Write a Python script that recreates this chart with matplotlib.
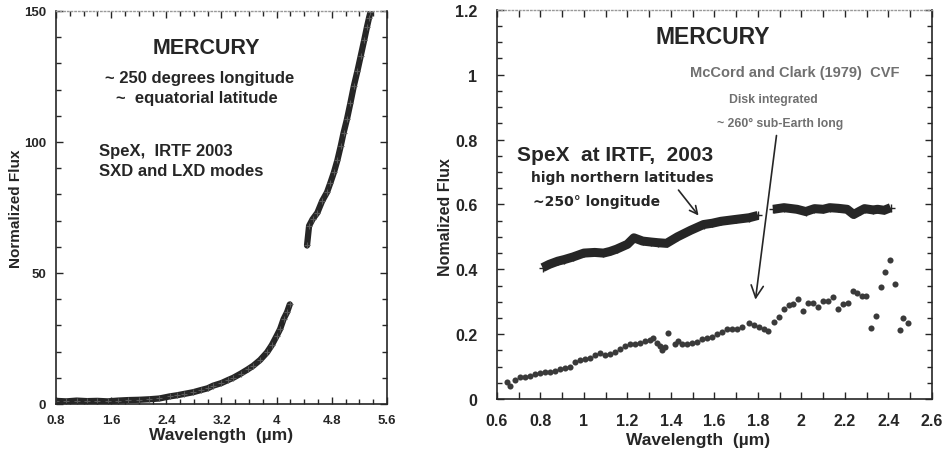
import numpy as np
import matplotlib.pyplot as plt
from matplotlib.ticker import MultipleLocator

plt.rcParams['font.family'] = ['Liberation Sans', 'DejaVu Sans']
plt.rcParams['font.weight'] = 'bold'
plt.rcParams['axes.labelweight'] = 'bold'

# ---- left panel: SpeX SXD + LXD (normalized flux, 0.8-5.6 um)
sxd_wl = [0.80, 0.95, 1.10, 1.25, 1.40, 1.55, 1.70, 1.85, 2.00, 2.15, 2.30, 2.45,
          2.55, 2.65, 2.79, 2.90, 3.00, 3.08, 3.20, 3.30, 3.37, 3.48, 3.58, 3.66,
          3.76, 3.86, 3.93, 4.00, 4.05, 4.10, 4.15, 4.19]
sxd_flux = [1.2, 1.0, 1.3, 1.1, 1.2, 1.0, 1.3, 1.5, 1.6, 1.8, 2.1, 2.9,
            3.3, 3.8, 4.5, 5.3, 6.0, 7.0, 8.0, 9.2, 10.0, 11.6, 13.2, 14.6,
            16.8, 19.7, 22.5, 26.0, 28.6, 32.4, 35.0, 38.0]

lxd_wl = [4.44, 4.47, 4.52, 4.59, 4.66, 4.73, 4.78, 4.83, 4.88, 4.93, 4.97, 5.02,
          5.07, 5.12, 5.17, 5.22, 5.27, 5.31, 5.34, 5.36]
lxd_flux = [60.5, 68.0, 70.5, 73.0, 77.5, 80.8, 84.5, 88.4, 93.0, 98.6, 103.5, 108.8,
            115.0, 121.5, 127.0, 133.0, 139.0, 144.0, 147.5, 149.5]

# ---- right panel: SpeX 2003 (upper) and McCord & Clark 1979 CVF (dots)
spex_wl1 = [0.81, 0.84, 0.88, 0.91, 0.95, 1.00, 1.05, 1.09, 1.12, 1.15, 1.20, 1.23,
            1.27, 1.31, 1.34, 1.38, 1.43, 1.49, 1.55, 1.59, 1.63, 1.70, 1.76, 1.80]
spex_fl1 = [0.405, 0.415, 0.425, 0.430, 0.438, 0.450, 0.452, 0.450, 0.455, 0.462, 0.477, 0.497,
            0.487, 0.484, 0.482, 0.480, 0.500, 0.520, 0.538, 0.542, 0.548, 0.554, 0.559, 0.566]
spex_wl2 = [1.87, 1.92, 1.98, 2.02, 2.06, 2.10, 2.13, 2.17, 2.21, 2.24, 2.27, 2.29,
            2.33, 2.35, 2.38, 2.41]
spex_fl2 = [0.585, 0.590, 0.585, 0.578, 0.587, 0.585, 0.590, 0.588, 0.585, 0.569, 0.580, 0.587,
            0.583, 0.585, 0.582, 0.590]

cvf_wl = [0.646, 0.661, 0.684, 0.707, 0.730, 0.753, 0.776, 0.799, 0.822, 0.845,
          0.868, 0.891, 0.914, 0.937, 0.960, 0.983, 1.006, 1.029, 1.052, 1.075,
          1.098, 1.121, 1.144, 1.167, 1.190, 1.213, 1.236, 1.259, 1.282, 1.305,
          1.320, 1.336, 1.351, 1.359, 1.374, 1.386, 1.420, 1.432, 1.451, 1.474,
          1.497, 1.520, 1.543, 1.566, 1.589, 1.612, 1.635, 1.658, 1.681, 1.704,
          1.727, 1.758, 1.781, 1.804, 1.827, 1.847, 1.873, 1.896, 1.919, 1.942,
          1.962, 1.985, 2.007, 2.030, 2.053, 2.076, 2.099, 2.122, 2.143, 2.166,
          2.189, 2.212, 2.235, 2.255, 2.278, 2.298, 2.319, 2.344, 2.366, 2.382,
          2.407, 2.431, 2.454, 2.469, 2.492]
cvf_fl = [0.051, 0.041, 0.059, 0.067, 0.069, 0.072, 0.076, 0.079, 0.082, 0.084,
          0.087, 0.094, 0.095, 0.100, 0.113, 0.121, 0.123, 0.128, 0.135, 0.141,
          0.135, 0.138, 0.146, 0.154, 0.162, 0.169, 0.171, 0.174, 0.179, 0.182,
          0.187, 0.174, 0.162, 0.151, 0.159, 0.203, 0.169, 0.179, 0.169, 0.169,
          0.174, 0.176, 0.185, 0.188, 0.190, 0.200, 0.207, 0.215, 0.215, 0.217,
          0.223, 0.234, 0.228, 0.223, 0.217, 0.210, 0.239, 0.254, 0.277, 0.289,
          0.292, 0.308, 0.272, 0.297, 0.297, 0.285, 0.303, 0.303, 0.315, 0.279,
          0.292, 0.297, 0.333, 0.328, 0.318, 0.318, 0.218, 0.256, 0.344, 0.393,
          0.428, 0.356, 0.213, 0.249, 0.233]

ink = '#262626'
narrow = ['Liberation Sans Narrow', 'Liberation Sans']

fig = plt.figure(figsize=(9.5, 4.52), dpi=100)
ax1 = fig.add_axes([0.0589, 0.104, 0.3485, 0.8695])
ax2 = fig.add_axes([0.523, 0.115, 0.458, 0.861])

# left panel
ax1.plot(sxd_wl, sxd_flux, '-', color=ink, lw=4.5, solid_capstyle='round')
ax1.plot(sxd_wl, sxd_flux, '+', color='0.35', ms=4, mew=0.8)
ax1.plot(lxd_wl, lxd_flux, '-', color=ink, lw=4.5, solid_capstyle='round')
ax1.plot(lxd_wl, lxd_flux, '+', color='0.35', ms=4, mew=0.8)
ax1.set_xlim(0.8, 5.6)
ax1.set_ylim(0, 150)
ax1.set_xticks([0.8, 1.6, 2.4, 3.2, 4.0, 4.8, 5.6])
ax1.set_xticklabels(['0.8', '1.6', '2.4', '3.2', '4', '4.8', '5.6'])
ax1.set_yticks([0, 50, 100, 150])
ax1.xaxis.set_minor_locator(MultipleLocator(0.2))
ax1.yaxis.set_minor_locator(MultipleLocator(10))
ax1.set_xlabel('Wavelength  (\u00b5m)', fontsize=12.5, color=ink, labelpad=1)
ax1.set_ylabel('Normalized Flux', fontsize=11, color=ink)
ax1.yaxis.set_label_coords(-0.10, 0.5)
ax1.text(2.98, 136, 'MERCURY', ha='center', va='center', fontsize=15.5, color=ink)
ax1.text(2.89, 124.6, '~ 250 degrees longitude', ha='center', va='center', fontsize=12, color=ink)
ax1.text(2.84, 117, '~  equatorial latitude', ha='center', va='center', fontsize=12, color=ink)
ax1.text(1.43, 96.7, 'SpeX,  IRTF 2003', ha='left', va='center', fontsize=12, color=ink)
ax1.text(1.43, 89, 'SXD and LXD modes', ha='left', va='center', fontsize=12, color=ink)

# right panel
ax2.plot(spex_wl1, spex_fl1, '-', color=ink, lw=6.5, solid_capstyle='butt')
ax2.plot(spex_wl1, spex_fl1, '+', color='0.15', ms=6, mew=1)
ax2.plot(spex_wl2, spex_fl2, '-', color=ink, lw=6.5, solid_capstyle='butt')
ax2.plot(spex_wl2, spex_fl2, '+', color='0.15', ms=6, mew=1)
ax2.plot(cvf_wl, cvf_fl, 'o', color='#3a3a3a', ms=4.4, mec='none')
ax2.set_xlim(0.6, 2.6)
ax2.set_ylim(0, 1.2)
ax2.set_xticks(np.arange(0.6, 2.61, 0.2))
ax2.set_xticklabels(['0.6', '0.8', '1', '1.2', '1.4', '1.6', '1.8', '2', '2.2', '2.4', '2.6'])
ax2.set_yticks(np.arange(0, 1.21, 0.2))
ax2.set_yticklabels(['0', '0.2', '0.4', '0.6', '0.8', '1', '1.2'])
ax2.xaxis.set_minor_locator(MultipleLocator(0.1))
ax2.yaxis.set_minor_locator(MultipleLocator(0.05))
ax2.set_xlabel('Wavelength  (\u00b5m)', fontsize=12.5, color=ink)
ax2.xaxis.set_label_coords(0.462, -0.085)
ax2.set_ylabel('Nomalized Flux', fontsize=11.5, color=ink)
ax2.yaxis.set_label_coords(-0.10, 0.47)
ax2.text(1.594, 1.117, 'MERCURY', ha='center', va='center', fontsize=16.5, color=ink)
ax2.text(1.97, 1.009, 'McCord and Clark (1979)  CVF', ha='center', va='center', fontsize=10.5,
         color='#707070', family=narrow)
ax2.text(1.87, 0.926, 'Disk integrated', ha='center', va='center', fontsize=8.8,
         color='#707070', family=narrow)
ax2.text(1.90, 0.852, '~ 260\u00b0 sub-Earth long', ha='center', va='center', fontsize=8.8,
         color='#707070', family=narrow)
ax2.annotate('', xy=(1.787, 0.298), xytext=(1.887, 0.821),
             arrowprops=dict(arrowstyle='->', color=ink, lw=1.2, mutation_scale=22))
ax2.text(1.144, 0.754, 'SpeX  at IRTF,  2003', ha='center', va='center', fontsize=15, color=ink)
ax2.text(1.177, 0.686, 'high northern latitudes', ha='center', va='center', fontsize=10,
         color=ink, family=['DejaVu Sans'])
ax2.text(0.767, 0.612, '~250\u00b0 longitude', ha='left', va='center', fontsize=10,
         color=ink, family=['DejaVu Sans'])
ax2.annotate('', xy=(1.535, 0.559), xytext=(1.427, 0.651),
             arrowprops=dict(arrowstyle='->', color=ink, lw=1.2, mutation_scale=14))

for ax in (ax1, ax2):
    ax.tick_params(which='both', direction='in', top=True, right=True,
                   labelsize=9.5, labelcolor=ink, color=ink, pad=7)
    ax.tick_params(which='major', length=5, width=1)
    ax.tick_params(which='minor', length=3.5, width=1)
    for side in ('left', 'right', 'bottom'):
        ax.spines[side].set_color(ink)
        ax.spines[side].set_linewidth(1.2)
    ax.spines['top'].set_color('0.6')
    ax.spines['top'].set_linestyle(':')
    ax.spines['top'].set_linewidth(1.0)
ax2.tick_params(which='both', labelsize=11.5)
ax2.tick_params(axis='x', which='minor', length=5)
ax2.tick_params(axis='x', which='both', pad=10)
ax2.tick_params(axis='y', which='both', pad=14)

fig.savefig('out.png', dpi=100)
